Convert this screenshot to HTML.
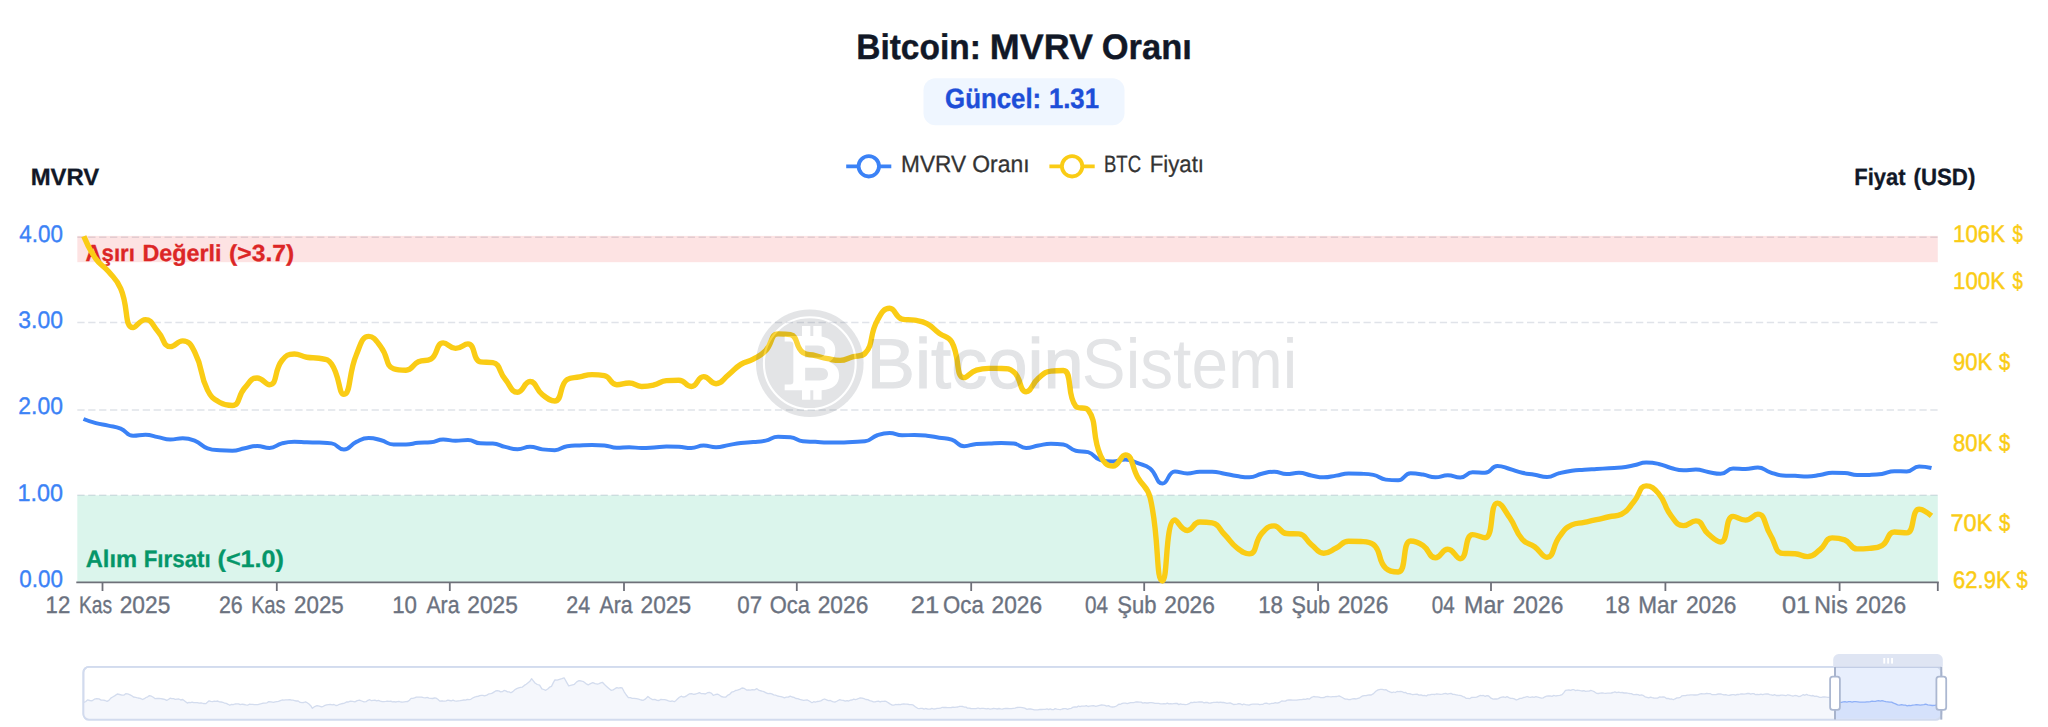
<!DOCTYPE html>
<html lang="tr"><head><meta charset="utf-8"><title>Bitcoin: MVRV Oranı</title>
<style>html,body{margin:0;padding:0;background:#fff;}body{width:2048px;height:727px;overflow:hidden;font-family:"Liberation Sans", "DejaVu Sans", sans-serif;}svg{display:block;}text{font-family:"Liberation Sans", "DejaVu Sans", sans-serif;white-space:pre;text-rendering:geometricPrecision;}</style>
</head><body>
<svg width="2048" height="727" viewBox="0 0 2048 727">
<rect width="2048" height="727" fill="#ffffff"/>
<g id="header">
<text y="58.8" font-size="35.47" font-weight="bold" fill="#111827" stroke="#111827" stroke-width="0.40"><tspan x="856.2" textLength="124.7" lengthAdjust="spacingAndGlyphs">Bitcoin:</tspan> <tspan x="989.8" textLength="103.1" lengthAdjust="spacingAndGlyphs">MVRV</tspan> <tspan x="1101.7" textLength="90.1" lengthAdjust="spacingAndGlyphs">Oranı</tspan></text>
<rect x="923.5" y="78.2" width="201" height="47" rx="12" ry="12" fill="#eff6ff"/>
<text y="107.9" font-size="28.05" font-weight="bold" fill="#1d4ed8" stroke="#1d4ed8" stroke-width="0.40"><tspan x="945.1" textLength="96.1" lengthAdjust="spacingAndGlyphs">Güncel:</tspan> <tspan x="1048.9" textLength="50.1" lengthAdjust="spacingAndGlyphs">1.31</tspan></text>
</g>
<g id="legend">
<line x1="846.2" y1="166.3" x2="891.3" y2="166.3" stroke="#3b82f6" stroke-width="3.8"/><circle cx="868.8" cy="166.3" r="10.2" fill="#fff" stroke="#3b82f6" stroke-width="3.8"/>
<text y="171.7" font-size="23.55" font-weight="normal" fill="#333333" stroke="#333333" stroke-width="0.30"><tspan x="901.1" textLength="65.0" lengthAdjust="spacingAndGlyphs">MVRV</tspan> <tspan x="972.3" textLength="57.2" lengthAdjust="spacingAndGlyphs">Oranı</tspan></text>
<line x1="1049.4" y1="166.3" x2="1094.7" y2="166.3" stroke="#facc15" stroke-width="3.8"/><circle cx="1072.1" cy="166.3" r="10.2" fill="#fff" stroke="#facc15" stroke-width="3.8"/>
<text y="171.7" font-size="23.55" font-weight="normal" fill="#333333" stroke="#333333" stroke-width="0.30"><tspan x="1103.9" textLength="37.2" lengthAdjust="spacingAndGlyphs">BTC</tspan> <tspan x="1149.7" textLength="54.3" lengthAdjust="spacingAndGlyphs">Fiyatı</tspan></text>
</g>
<text y="185.3" font-size="23.69" font-weight="bold" fill="#111827" stroke="#111827" stroke-width="0.30"><tspan x="30.7" textLength="68.6" lengthAdjust="spacingAndGlyphs">MVRV</tspan></text>
<text y="185.1" font-size="23.55" font-weight="bold" fill="#111827" stroke="#111827" stroke-width="0.30"><tspan x="1854.3" textLength="51.3" lengthAdjust="spacingAndGlyphs">Fiyat</tspan> <tspan x="1913.5" textLength="61.8" lengthAdjust="spacingAndGlyphs">(USD)</tspan></text>
<g id="grid" stroke="#e0e3e9" stroke-width="1.6" stroke-dasharray="7.3 3.6" fill="none">
<line x1="77.3" y1="237.20" x2="1937.8" y2="237.20"/>
<line x1="77.3" y1="322.55" x2="1937.8" y2="322.55"/>
<line x1="77.3" y1="410.00" x2="1937.8" y2="410.00"/>
<line x1="77.3" y1="495.25" x2="1937.8" y2="495.25"/>
</g>
<g id="bands">
<rect x="77.3" y="235.9" width="1860.5" height="26.3" fill="rgba(239,68,68,0.15)"/>
<rect x="77.3" y="495.3" width="1860.5" height="87.1" fill="rgba(16,185,129,0.15)"/>
</g>
<text y="261.4" font-size="23.26" font-weight="bold" fill="#dc2626" stroke="#dc2626" stroke-width="0.30"><tspan x="85.6" textLength="49.3" lengthAdjust="spacingAndGlyphs">Aşırı</tspan> <tspan x="142.4" textLength="79.1" lengthAdjust="spacingAndGlyphs">Değerli</tspan> <tspan x="229.1" textLength="65.1" lengthAdjust="spacingAndGlyphs">(&gt;3.7)</tspan></text>
<text y="566.9" font-size="23.84" font-weight="bold" fill="#059669" stroke="#059669" stroke-width="0.30"><tspan x="85.7" textLength="51.4" lengthAdjust="spacingAndGlyphs">Alım</tspan> <tspan x="143.7" textLength="67.0" lengthAdjust="spacingAndGlyphs">Fırsatı</tspan> <tspan x="217.5" textLength="66.5" lengthAdjust="spacingAndGlyphs">(&lt;1.0)</tspan></text>
<g id="xaxis">
<line x1="76.3" y1="582.4" x2="1938.8" y2="582.4" stroke="#6e7079" stroke-width="1.8"/>
<line x1="102.5" y1="582.4" x2="102.5" y2="591.0" stroke="#6e7079" stroke-width="1.8"/>
<line x1="276.8" y1="582.4" x2="276.8" y2="591.0" stroke="#6e7079" stroke-width="1.8"/>
<line x1="449.8" y1="582.4" x2="449.8" y2="591.0" stroke="#6e7079" stroke-width="1.8"/>
<line x1="624.0" y1="582.4" x2="624.0" y2="591.0" stroke="#6e7079" stroke-width="1.8"/>
<line x1="796.8" y1="582.4" x2="796.8" y2="591.0" stroke="#6e7079" stroke-width="1.8"/>
<line x1="971.2" y1="582.4" x2="971.2" y2="591.0" stroke="#6e7079" stroke-width="1.8"/>
<line x1="1144.2" y1="582.4" x2="1144.2" y2="591.0" stroke="#6e7079" stroke-width="1.8"/>
<line x1="1318.1" y1="582.4" x2="1318.1" y2="591.0" stroke="#6e7079" stroke-width="1.8"/>
<line x1="1491.0" y1="582.4" x2="1491.0" y2="591.0" stroke="#6e7079" stroke-width="1.8"/>
<line x1="1665.4" y1="582.4" x2="1665.4" y2="591.0" stroke="#6e7079" stroke-width="1.8"/>
<line x1="1839.6" y1="582.4" x2="1839.6" y2="591.0" stroke="#6e7079" stroke-width="1.8"/>
<line x1="1937.8" y1="582.4" x2="1937.8" y2="591.0" stroke="#6e7079" stroke-width="1.8"/>
<text y="612.7" font-size="24.13" font-weight="normal" fill="#6b7280" stroke="#6b7280" stroke-width="0.35"><tspan x="45.6" textLength="24.7" lengthAdjust="spacingAndGlyphs">12</tspan> <tspan x="78.9" textLength="33.1" lengthAdjust="spacingAndGlyphs">Kas</tspan> <tspan x="119.7" textLength="50.6" lengthAdjust="spacingAndGlyphs">2025</tspan></text>
<text y="612.7" font-size="24.13" font-weight="normal" fill="#6b7280" stroke="#6b7280" stroke-width="0.35"><tspan x="218.9" textLength="23.8" lengthAdjust="spacingAndGlyphs">26</tspan> <tspan x="251.3" textLength="34.1" lengthAdjust="spacingAndGlyphs">Kas</tspan> <tspan x="294.1" textLength="49.7" lengthAdjust="spacingAndGlyphs">2025</tspan></text>
<text y="612.7" font-size="24.13" font-weight="normal" fill="#6b7280" stroke="#6b7280" stroke-width="0.35"><tspan x="392.2" textLength="24.8" lengthAdjust="spacingAndGlyphs">10</tspan> <tspan x="426.4" textLength="33.1" lengthAdjust="spacingAndGlyphs">Ara</tspan> <tspan x="467.3" textLength="50.6" lengthAdjust="spacingAndGlyphs">2025</tspan></text>
<text y="612.7" font-size="24.13" font-weight="normal" fill="#6b7280" stroke="#6b7280" stroke-width="0.35"><tspan x="566.3" textLength="23.9" lengthAdjust="spacingAndGlyphs">24</tspan> <tspan x="599.6" textLength="33.1" lengthAdjust="spacingAndGlyphs">Ara</tspan> <tspan x="640.5" textLength="50.6" lengthAdjust="spacingAndGlyphs">2025</tspan></text>
<text y="612.7" font-size="24.13" font-weight="normal" fill="#6b7280" stroke="#6b7280" stroke-width="0.35"><tspan x="737.3" textLength="24.8" lengthAdjust="spacingAndGlyphs">07</tspan> <tspan x="769.7" textLength="40.2" lengthAdjust="spacingAndGlyphs">Oca</tspan> <tspan x="817.7" textLength="50.6" lengthAdjust="spacingAndGlyphs">2026</tspan></text>
<text y="612.7" font-size="24.13" font-weight="normal" fill="#6b7280" stroke="#6b7280" stroke-width="0.35"><tspan x="910.7" textLength="28.4" lengthAdjust="spacingAndGlyphs">21</tspan> <tspan x="943.1" textLength="40.6" lengthAdjust="spacingAndGlyphs">Oca</tspan> <tspan x="991.5" textLength="50.6" lengthAdjust="spacingAndGlyphs">2026</tspan></text>
<text y="612.7" font-size="24.13" font-weight="normal" fill="#6b7280" stroke="#6b7280" stroke-width="0.35"><tspan x="1084.9" textLength="23.0" lengthAdjust="spacingAndGlyphs">04</tspan> <tspan x="1117.3" textLength="39.2" lengthAdjust="spacingAndGlyphs">Şub</tspan> <tspan x="1164.3" textLength="50.6" lengthAdjust="spacingAndGlyphs">2026</tspan></text>
<text y="612.7" font-size="24.13" font-weight="normal" fill="#6b7280" stroke="#6b7280" stroke-width="0.35"><tspan x="1258.2" textLength="24.8" lengthAdjust="spacingAndGlyphs">18</tspan> <tspan x="1291.5" textLength="38.4" lengthAdjust="spacingAndGlyphs">Şub</tspan> <tspan x="1337.7" textLength="50.6" lengthAdjust="spacingAndGlyphs">2026</tspan></text>
<text y="612.7" font-size="24.13" font-weight="normal" fill="#6b7280" stroke="#6b7280" stroke-width="0.35"><tspan x="1431.7" textLength="23.0" lengthAdjust="spacingAndGlyphs">04</tspan> <tspan x="1464.1" textLength="39.9" lengthAdjust="spacingAndGlyphs">Mar</tspan> <tspan x="1512.7" textLength="50.6" lengthAdjust="spacingAndGlyphs">2026</tspan></text>
<text y="612.7" font-size="24.13" font-weight="normal" fill="#6b7280" stroke="#6b7280" stroke-width="0.35"><tspan x="1605.0" textLength="24.8" lengthAdjust="spacingAndGlyphs">18</tspan> <tspan x="1638.3" textLength="38.9" lengthAdjust="spacingAndGlyphs">Mar</tspan> <tspan x="1685.9" textLength="50.6" lengthAdjust="spacingAndGlyphs">2026</tspan></text>
<text y="612.7" font-size="24.13" font-weight="normal" fill="#6b7280" stroke="#6b7280" stroke-width="0.35"><tspan x="1781.9" textLength="28.2" lengthAdjust="spacingAndGlyphs">01</tspan> <tspan x="1814.3" textLength="33.4" lengthAdjust="spacingAndGlyphs">Nis</tspan> <tspan x="1855.5" textLength="50.6" lengthAdjust="spacingAndGlyphs">2026</tspan></text>
</g>
<g id="yleft">
<text y="241.7" font-size="23.98" font-weight="normal" fill="#3b82f6" stroke="#3b82f6" stroke-width="0.35"><tspan x="19.2" textLength="43.7" lengthAdjust="spacingAndGlyphs">4.00</tspan></text>
<text y="328.0" font-size="23.98" font-weight="normal" fill="#3b82f6" stroke="#3b82f6" stroke-width="0.35"><tspan x="18.3" textLength="44.6" lengthAdjust="spacingAndGlyphs">3.00</tspan></text>
<text y="414.4" font-size="23.98" font-weight="normal" fill="#3b82f6" stroke="#3b82f6" stroke-width="0.35"><tspan x="18.3" textLength="44.6" lengthAdjust="spacingAndGlyphs">2.00</tspan></text>
<text y="500.7" font-size="23.98" font-weight="normal" fill="#3b82f6" stroke="#3b82f6" stroke-width="0.35"><tspan x="17.4" textLength="45.5" lengthAdjust="spacingAndGlyphs">1.00</tspan></text>
<text y="587.0" font-size="23.98" font-weight="normal" fill="#3b82f6" stroke="#3b82f6" stroke-width="0.35"><tspan x="19.2" textLength="43.7" lengthAdjust="spacingAndGlyphs">0.00</tspan></text>
</g>
<g id="yright">
<text y="242.0" font-size="24.13" font-weight="normal" fill="#facc15" stroke="#facc15" stroke-width="0.50"><tspan x="1953.1" textLength="51.9" lengthAdjust="spacingAndGlyphs">106K</tspan> <tspan x="2012.6" textLength="10.3" lengthAdjust="spacingAndGlyphs">$</tspan></text>
<text y="289.2" font-size="24.13" font-weight="normal" fill="#facc15" stroke="#facc15" stroke-width="0.50"><tspan x="1953.1" textLength="51.9" lengthAdjust="spacingAndGlyphs">100K</tspan> <tspan x="2012.6" textLength="10.3" lengthAdjust="spacingAndGlyphs">$</tspan></text>
<text y="370.2" font-size="24.13" font-weight="normal" fill="#facc15" stroke="#facc15" stroke-width="0.50"><tspan x="1953.1" textLength="39.2" lengthAdjust="spacingAndGlyphs">90K</tspan> <tspan x="1999.0" textLength="11.2" lengthAdjust="spacingAndGlyphs">$</tspan></text>
<text y="450.9" font-size="24.13" font-weight="normal" fill="#facc15" stroke="#facc15" stroke-width="0.50"><tspan x="1953.1" textLength="39.2" lengthAdjust="spacingAndGlyphs">80K</tspan> <tspan x="1999.0" textLength="11.2" lengthAdjust="spacingAndGlyphs">$</tspan></text>
<text y="531.1" font-size="24.13" font-weight="normal" fill="#facc15" stroke="#facc15" stroke-width="0.50"><tspan x="1950.4" textLength="41.9" lengthAdjust="spacingAndGlyphs">70K</tspan> <tspan x="1999.0" textLength="11.2" lengthAdjust="spacingAndGlyphs">$</tspan></text>
<text y="587.5" font-size="24.13" font-weight="normal" fill="#facc15" stroke="#facc15" stroke-width="0.50"><tspan x="1953.1" textLength="57.5" lengthAdjust="spacingAndGlyphs">62.9K</tspan> <tspan x="2016.4" textLength="11.2" lengthAdjust="spacingAndGlyphs">$</tspan></text>
</g>
<g id="series" fill="none" stroke-linejoin="round" stroke-linecap="butt">
<path d="M83.50 419.00C83.50 419.00 89.59 421.49 95.90 423.17C102.00 424.80 102.14 424.25 108.31 425.61C114.54 426.99 114.85 426.27 120.71 428.66C127.26 431.34 126.48 435.75 133.11 435.75C138.88 435.75 139.36 434.75 145.51 434.75C151.76 434.75 151.72 435.93 157.92 437.12C164.12 438.31 164.08 439.50 170.32 439.50C176.48 439.50 176.58 438.25 182.72 438.25C188.98 438.25 189.31 438.60 195.12 440.95C201.72 443.61 200.90 445.94 207.53 448.27C213.31 450.30 213.69 449.85 219.93 450.30C226.09 450.75 226.19 450.75 232.33 450.75C238.59 450.75 238.52 449.41 244.73 448.22C250.92 447.04 250.93 446.00 257.14 446.00C263.33 446.00 263.50 448.00 269.54 448.00C275.91 448.00 275.56 444.95 281.94 443.34C287.97 441.83 288.12 441.75 294.35 441.75C300.52 441.75 300.54 442.10 306.75 442.30C312.95 442.51 312.96 442.30 319.15 442.57C325.36 442.83 325.69 442.57 331.55 443.36C338.09 444.24 337.92 449.50 343.96 449.50C350.32 449.50 349.80 444.86 356.36 441.82C362.20 439.11 362.47 438.00 368.76 438.00C374.87 438.00 375.08 438.68 381.16 440.27C387.48 441.93 387.20 444.50 393.57 444.50C399.60 444.50 399.80 444.50 405.97 444.50C412.20 444.50 412.15 443.36 418.37 442.81C424.55 442.27 424.65 442.81 430.78 442.27C437.05 441.71 436.92 439.50 443.18 439.50C449.32 439.50 449.37 440.75 455.58 440.75C461.77 440.75 461.88 440.00 467.98 440.00C474.28 440.00 474.08 443.09 480.39 443.30C486.48 443.50 486.70 443.30 492.79 443.50C499.10 443.71 498.93 445.45 505.19 446.90C511.34 448.32 511.40 449.25 517.59 449.25C523.80 449.25 523.80 446.75 530.00 446.75C536.20 446.75 536.14 448.59 542.40 449.37C548.54 450.13 548.74 450.13 554.80 450.13C561.15 450.13 560.86 447.00 567.20 446.18C573.26 445.39 573.40 445.69 579.61 445.39C585.80 445.10 585.81 445.00 592.01 445.00C598.21 445.00 598.26 445.00 604.41 445.41C610.67 445.83 610.56 447.75 616.82 447.75C622.97 447.75 623.02 447.25 629.22 447.25C635.42 447.25 635.42 448.00 641.62 448.00C647.82 448.00 647.83 447.85 654.02 447.48C660.23 447.10 660.22 446.50 666.43 446.50C672.62 446.50 672.64 446.50 678.83 446.83C685.04 447.16 685.08 448.00 691.23 448.00C697.48 448.00 697.40 445.50 703.63 445.50C709.80 445.50 709.85 447.25 716.04 447.25C722.25 447.25 722.24 446.19 728.44 445.11C734.64 444.04 734.60 443.72 740.84 442.94C747.01 442.16 747.05 442.59 753.24 442.01C759.46 441.42 759.57 441.88 765.65 440.60C771.97 439.26 771.71 436.75 778.05 436.75C784.11 436.75 784.40 436.75 790.45 437.34C796.80 437.95 796.51 440.63 802.86 441.25C808.91 441.84 809.06 441.53 815.26 441.84C821.46 442.15 821.46 442.50 827.66 442.50C833.86 442.50 833.86 442.50 840.06 442.50C846.27 442.50 846.27 442.29 852.47 442.00C858.67 441.72 859.00 442.00 864.87 441.36C871.41 440.65 870.78 437.42 877.27 435.23C883.18 433.24 883.47 433.00 889.67 433.00C895.88 433.00 895.83 435.25 902.08 435.25C908.23 435.25 908.28 435.00 914.48 435.00C920.69 435.00 920.71 435.05 926.88 435.72C933.12 436.39 933.08 436.71 939.29 437.69C945.49 438.66 945.84 437.69 951.69 439.63C958.24 441.81 957.55 446.25 964.09 446.25C969.95 446.25 970.24 444.44 976.49 443.99C982.65 443.56 982.70 443.80 988.90 443.56C995.10 443.31 995.10 443.00 1001.30 443.00C1007.50 443.00 1007.68 443.00 1013.70 443.55C1020.09 444.13 1019.78 448.00 1026.10 448.00C1032.18 448.00 1032.27 446.55 1038.51 445.48C1044.68 444.42 1044.69 443.75 1050.91 443.75C1057.09 443.75 1057.44 443.75 1063.31 444.58C1069.85 445.51 1069.19 449.21 1075.71 450.73C1081.59 452.11 1082.43 450.73 1088.12 452.11C1094.83 453.74 1093.81 458.38 1100.52 460.08C1106.21 461.51 1106.74 461.51 1112.92 461.51C1119.14 461.51 1119.22 459.53 1125.33 459.53C1131.62 459.53 1131.65 461.04 1137.73 463.24C1144.05 465.53 1145.07 464.35 1150.13 468.51C1157.47 474.54 1155.97 483.62 1162.53 483.62C1168.37 483.62 1167.73 471.41 1174.94 471.41C1180.14 471.41 1181.13 473.39 1187.34 473.39C1193.53 473.39 1193.51 471.87 1199.74 471.76C1205.92 471.65 1205.98 471.65 1212.14 471.65C1218.39 471.65 1218.36 472.58 1224.55 473.68C1230.76 474.79 1230.71 475.14 1236.95 476.07C1243.11 476.98 1243.26 477.35 1249.35 477.35C1255.66 477.35 1255.47 475.19 1261.76 473.77C1267.87 472.39 1267.97 471.74 1274.16 471.74C1280.37 471.74 1280.32 474.05 1286.56 474.05C1292.72 474.05 1292.81 472.83 1298.96 472.83C1305.22 472.83 1305.13 474.32 1311.37 475.46C1317.53 476.58 1317.56 477.34 1323.77 477.34C1329.96 477.34 1329.98 476.55 1336.17 475.62C1342.38 474.68 1342.33 473.58 1348.57 473.58C1354.73 473.58 1354.79 473.58 1360.98 473.79C1367.19 474.00 1367.38 473.79 1373.38 474.88C1379.78 476.04 1379.37 478.87 1385.78 479.63C1391.78 480.34 1392.41 480.34 1398.18 480.34C1404.81 480.34 1403.97 473.33 1410.59 473.33C1416.37 473.33 1416.85 473.58 1422.99 474.57C1429.25 475.58 1429.16 477.34 1435.39 477.34C1441.56 477.34 1441.60 475.33 1447.80 475.33C1454.01 475.33 1454.20 477.59 1460.20 477.59C1466.61 477.59 1466.15 472.33 1472.60 472.33C1478.55 472.33 1479.20 472.83 1485.00 472.83C1491.60 472.83 1490.88 466.07 1497.41 466.07C1503.29 466.07 1503.67 467.31 1509.81 468.98C1516.07 470.68 1515.91 471.34 1522.21 472.80C1528.31 474.22 1528.43 473.67 1534.61 474.74C1540.83 475.81 1540.91 477.09 1547.02 477.09C1553.31 477.09 1553.13 474.81 1559.42 473.18C1565.54 471.60 1565.57 471.53 1571.82 470.66C1577.97 469.81 1578.02 470.16 1584.22 469.75C1590.42 469.33 1590.43 469.37 1596.63 469.00C1602.83 468.63 1602.83 468.62 1609.03 468.27C1615.23 467.92 1615.28 468.27 1621.43 467.59C1627.68 466.91 1627.66 466.58 1633.84 465.33C1640.06 464.06 1639.98 462.56 1646.24 462.56C1652.38 462.56 1652.58 462.61 1658.64 463.93C1664.98 465.31 1664.74 466.33 1671.04 467.96C1677.14 469.53 1677.20 470.33 1683.45 470.33C1689.60 470.33 1689.70 469.57 1695.85 469.57C1702.10 469.57 1702.02 470.95 1708.25 472.02C1714.43 473.08 1714.68 473.83 1720.65 473.83C1727.09 473.83 1726.60 468.49 1733.06 468.49C1739.00 468.49 1739.28 469.07 1745.46 469.07C1751.68 469.07 1751.85 467.57 1757.86 467.57C1764.25 467.57 1763.95 470.29 1770.27 472.30C1776.35 474.24 1776.37 475.05 1782.67 475.47C1788.77 475.87 1788.87 475.60 1795.07 475.87C1801.27 476.13 1801.29 476.52 1807.47 476.52C1813.69 476.52 1813.71 476.01 1819.88 475.07C1826.11 474.11 1826.02 472.72 1832.28 472.72C1838.43 472.72 1838.52 472.72 1844.68 472.95C1850.92 473.18 1850.84 474.98 1857.08 474.98C1863.24 474.98 1863.29 474.98 1869.49 474.88C1875.70 474.78 1875.75 474.88 1881.89 474.00C1888.16 473.09 1888.02 471.24 1894.29 471.24C1900.42 471.24 1900.73 471.46 1906.69 471.46C1913.13 471.46 1912.68 466.40 1919.10 466.40C1925.08 466.40 1931.50 467.94 1931.50 467.94" stroke="#3b82f6" stroke-width="4.0"/>
<path d="M83.80 236.30C83.80 236.30 88.63 248.51 95.90 258.90C100.88 266.00 102.70 264.59 108.31 271.30C115.10 279.42 116.48 278.94 120.71 288.55C128.88 307.11 123.99 327.64 133.11 327.64C136.39 327.64 139.77 319.63 145.51 319.63C152.18 319.63 152.13 325.16 157.92 331.47C164.54 338.68 163.01 346.67 170.32 346.67C175.41 346.67 177.24 340.91 182.72 340.91C189.64 340.91 191.33 345.40 195.12 352.92C203.74 370.00 198.95 372.98 207.53 390.11C211.36 397.76 212.76 398.33 219.93 402.48C225.16 405.51 227.72 405.51 232.33 405.51C240.12 405.51 237.60 395.83 244.73 387.90C250.00 382.06 250.57 377.97 257.14 377.97C262.97 377.97 265.30 384.73 269.54 384.73C277.71 384.73 273.76 370.65 281.94 360.49C286.16 355.25 287.87 353.93 294.35 353.93C300.27 353.93 300.45 356.23 306.75 357.26C312.85 358.26 313.24 357.26 319.15 358.26C325.64 359.36 327.90 358.70 331.55 364.00C340.30 376.69 338.49 394.24 343.96 394.24C350.89 394.24 348.27 373.55 356.36 354.69C360.67 344.64 361.66 336.41 368.76 336.41C374.06 336.41 376.21 340.83 381.16 347.29C388.61 356.99 385.32 365.84 393.57 368.75C397.72 370.21 400.33 370.21 405.97 370.21C412.73 370.21 411.66 364.83 418.37 361.84C424.06 359.30 426.02 361.84 430.78 359.15C438.43 354.83 435.73 342.92 443.18 342.92C448.13 342.92 449.29 348.42 455.58 348.42C461.70 348.42 463.30 343.92 467.98 343.92C475.71 343.92 472.49 360.47 480.39 361.81C484.89 362.57 488.16 361.81 492.79 362.57C500.56 363.85 498.52 371.34 505.19 379.32C510.92 386.17 511.12 392.24 517.59 392.24C523.53 392.24 524.09 381.47 530.00 381.47C536.49 381.47 535.41 389.09 542.40 394.59C547.81 398.85 550.34 401.00 554.80 401.00C562.74 401.00 558.99 384.47 567.20 379.48C571.39 376.94 573.39 378.15 579.61 376.94C585.80 375.74 585.77 374.67 592.01 374.67C598.17 374.67 598.85 374.67 604.41 375.69C611.26 376.95 609.99 384.68 616.82 384.68C622.39 384.68 623.11 382.93 629.22 382.93C635.51 382.93 635.32 386.44 641.62 386.44C647.73 386.44 647.97 386.35 654.02 384.95C660.38 383.47 660.05 381.20 666.43 380.67C672.46 380.18 672.98 380.18 678.83 380.18C685.38 380.18 685.43 386.44 691.23 386.44C697.83 386.44 697.12 376.67 703.63 376.67C709.52 376.67 710.05 383.68 716.04 383.68C722.45 383.68 722.42 379.46 728.44 374.78C734.82 369.82 734.07 368.66 740.84 364.39C746.48 360.84 747.38 362.38 753.24 359.15C759.78 355.54 760.47 355.99 765.65 350.72C772.87 343.35 770.27 333.86 778.05 333.86C782.67 333.86 785.95 333.86 790.45 334.58C798.35 335.86 795.04 347.20 802.86 352.51C807.44 355.62 809.06 354.06 815.26 355.62C821.46 357.17 821.39 357.51 827.66 358.72C833.80 359.90 833.95 360.40 840.06 360.40C846.36 360.40 846.26 358.60 852.47 356.88C858.66 355.16 861.56 356.88 864.87 353.51C873.96 344.26 868.95 335.59 877.27 320.44C881.36 313.00 883.30 308.32 889.67 308.32C895.70 308.32 895.03 317.45 902.08 319.02C907.44 320.22 908.38 319.08 914.48 320.22C920.78 321.39 921.30 320.69 926.88 323.64C933.71 327.25 932.94 328.68 939.29 333.33C945.34 337.78 948.17 335.54 951.69 341.83C960.57 357.71 955.12 377.67 964.09 377.67C967.52 377.67 969.83 372.12 976.49 370.13C982.24 368.41 982.67 368.41 988.90 368.41C995.07 368.41 995.21 368.41 1001.30 368.45C1007.61 368.50 1009.31 368.45 1013.70 371.79C1021.72 377.87 1019.15 391.69 1026.10 391.69C1031.55 391.69 1031.52 383.93 1038.51 378.14C1043.93 373.64 1044.28 371.85 1050.91 371.10C1056.68 370.46 1060.24 370.46 1063.31 370.46C1072.65 370.46 1066.48 395.42 1075.71 406.14C1078.88 409.81 1085.45 406.14 1088.12 409.81C1097.86 423.25 1091.30 434.55 1100.52 455.47C1103.71 462.71 1106.79 466.13 1112.92 466.13C1119.19 466.13 1120.43 454.92 1125.33 454.92C1132.83 454.92 1131.30 466.25 1137.73 477.33C1143.71 487.63 1147.39 486.25 1150.13 497.68C1159.80 538.06 1155.40 580.95 1162.53 580.95C1167.81 580.95 1165.10 519.91 1174.94 519.91C1177.51 519.91 1180.88 530.47 1187.34 530.47C1193.28 530.47 1192.96 522.04 1199.74 522.04C1205.36 522.04 1206.90 522.04 1212.14 522.90C1219.30 524.08 1218.56 528.48 1224.55 534.49C1230.96 540.94 1229.90 542.30 1236.95 547.81C1242.30 552.00 1244.81 553.89 1249.35 553.89C1257.22 553.89 1254.04 542.14 1261.76 533.41C1266.44 528.12 1267.97 525.85 1274.16 525.85C1280.37 525.85 1279.86 533.11 1286.56 533.55C1292.26 533.92 1293.61 533.55 1298.96 533.92C1306.01 534.41 1304.92 539.55 1311.37 544.56C1317.33 549.19 1317.21 553.20 1323.77 553.20C1329.61 553.20 1330.13 550.92 1336.17 547.99C1342.53 544.91 1341.97 541.18 1348.57 541.18C1354.37 541.18 1354.86 541.18 1360.98 541.51C1367.27 541.84 1369.37 541.51 1373.38 544.53C1381.77 550.86 1377.43 560.38 1385.78 568.19C1389.84 571.98 1394.72 571.98 1398.18 571.98C1407.12 571.98 1401.70 540.93 1410.59 540.93C1414.10 540.93 1417.63 541.91 1422.99 545.53C1430.03 550.30 1428.74 557.71 1435.39 557.71C1441.15 557.71 1441.71 549.19 1447.80 549.19C1454.12 549.19 1455.66 558.71 1460.20 558.71C1468.06 558.71 1464.17 534.67 1472.60 534.67C1476.58 534.67 1481.80 537.68 1485.00 537.68C1494.21 537.68 1489.26 503.12 1497.41 503.12C1501.67 503.12 1504.39 509.91 1509.81 517.79C1516.79 527.94 1514.40 530.08 1522.21 539.20C1526.80 544.56 1528.76 542.50 1534.61 546.75C1541.16 551.50 1542.01 557.21 1547.02 557.21C1554.42 557.21 1552.18 546.11 1559.42 536.67C1564.59 529.93 1564.69 528.18 1571.82 524.85C1577.09 522.40 1578.03 523.68 1584.22 522.40C1590.44 521.12 1590.44 521.15 1596.63 519.74C1602.85 518.32 1602.80 518.11 1609.03 516.74C1615.20 515.38 1616.25 516.74 1621.43 514.27C1628.66 510.84 1628.05 508.38 1633.84 501.75C1640.45 494.16 1639.05 485.85 1646.24 485.85C1651.45 485.85 1654.08 488.16 1658.64 493.61C1666.49 503.00 1663.46 505.74 1671.04 515.53C1675.86 521.76 1676.67 525.66 1683.45 525.66C1689.07 525.66 1690.59 520.90 1695.85 520.90C1703.00 520.90 1701.42 528.23 1708.25 534.03C1713.82 538.75 1716.42 541.93 1720.65 541.93C1728.82 541.93 1724.54 516.39 1733.06 516.39C1736.94 516.39 1739.45 520.15 1745.46 520.15C1751.85 520.15 1753.33 514.14 1757.86 514.14C1765.74 514.14 1763.87 524.51 1770.27 534.63C1776.27 544.13 1774.68 552.64 1782.67 553.37C1787.08 553.77 1788.95 553.37 1795.07 553.77C1801.35 554.18 1801.61 556.61 1807.47 556.61C1814.01 556.61 1814.26 553.97 1819.88 549.74C1826.66 544.62 1825.12 537.91 1832.28 537.91C1837.52 537.91 1839.10 537.91 1844.68 539.86C1851.50 542.25 1850.23 548.91 1857.08 548.91C1862.63 548.91 1863.35 548.91 1869.49 548.33C1875.76 547.74 1876.83 548.33 1881.89 545.62C1889.24 541.68 1886.88 531.97 1894.29 531.97C1899.29 531.97 1902.74 532.85 1906.69 532.85C1915.15 532.85 1910.98 509.31 1919.10 509.31C1923.38 509.31 1931.50 515.91 1931.50 515.91" stroke="#facc15" stroke-width="5.4"/>
</g>
<g id="watermark" opacity="0.16" fill="#4b5563">
<circle cx="809.8" cy="363.2" r="53.8"/>
<circle cx="809.8" cy="363.2" r="45.9" fill="none" stroke="#fff" stroke-width="2.1"/>
<path fill="#fff" fill-rule="evenodd" transform="translate(750 300) scale(0.1734)" d="M200 207H300V150H348V207H365V150H413V210C470 222 492 250 492 290C492 325 478 345 455 358C495 372 514 400 514 435C514 485 480 515 413 520V575H365V520H348V575H300V520H200V487H232Q250 487 250 468V258Q250 240 232 240H200ZM318 262H392C422 262 434 278 434 297C434 318 420 332 392 332H318ZM318 390H400C436 390 450 406 450 427C450 449 436 464 400 464H318Z"/>
<text y="388.2" font-size="70.5"><tspan x="866.8" stroke="#4b5563" stroke-width="1.1" textLength="216.9" lengthAdjust="spacingAndGlyphs">Bitcoin</tspan><tspan x="1081.8" textLength="215.5" lengthAdjust="spacingAndGlyphs">Sistemi</tspan></text>
</g>
<g id="datazoom">
<rect x="83.4" y="666.9" width="1857.9" height="52.7" rx="5.5" fill="#fff" stroke="#d2dbee" stroke-width="1.8"/>
<path d="M84.3 702.4L84.0 702.3L85.8 701.5L87.5 699.9L89.8 700.5L92.1 700.8L94.4 699.2L96.7 698.6L99.0 698.9L101.2 700.1L103.2 700.1L105.1 700.5L107.0 701.3L108.9 700.3L110.8 698.1L112.7 697.0L115.0 695.6L117.3 694.0L119.6 694.5L121.9 695.1L123.8 695.2L125.7 693.7L127.6 693.9L129.6 694.7L131.5 695.6L133.4 697.0L135.7 697.3L138.0 698.0L140.3 698.3L142.6 699.5L144.3 698.7L146.0 697.5L147.7 696.8L149.4 695.6L151.4 696.2L153.3 697.3L155.2 698.7L157.1 698.5L159.0 698.4L160.9 698.6L162.8 699.0L164.7 699.4L166.7 700.3L168.4 699.5L170.1 698.2L171.8 698.6L173.5 698.7L175.3 699.3L177.0 699.1L178.9 699.0L180.8 700.0L182.7 699.5L185.0 701.2L187.3 703.1L188.9 702.4L190.5 702.7L192.1 702.1L193.7 702.7L195.3 702.6L197.3 702.7L199.2 703.2L201.1 702.8L203.4 703.5L205.7 703.7L207.4 702.3L209.1 700.8L210.8 701.3L212.6 701.6L214.3 701.2L216.0 701.4L217.7 701.0L219.4 701.9L221.2 702.0L222.9 702.3L224.6 703.2L226.3 703.4L228.1 704.3L229.8 705.3L231.5 704.4L233.2 704.6L234.9 704.0L236.7 703.9L238.5 703.8L240.3 704.7L242.2 704.2L244.0 704.5L245.8 704.9L247.6 705.2L249.3 704.2L251.0 704.4L252.7 704.3L254.4 704.7L256.2 704.6L257.9 704.7L259.6 704.2L261.4 703.7L263.3 703.1L265.1 703.2L267.0 702.8L268.8 701.6L271.1 701.8L273.4 702.3L275.1 701.8L276.8 701.6L278.5 701.4L280.3 700.7L282.1 700.0L283.9 700.2L285.8 699.9L287.6 699.8L289.4 699.7L291.2 700.0L292.9 700.2L294.6 700.6L296.3 701.0L298.2 700.9L300.2 702.4L302.1 702.6L303.8 702.5L305.5 701.9L307.2 702.8L309.0 704.0L310.7 705.7L312.4 708.3L314.7 706.6L317.0 705.7L319.3 706.2L321.6 706.9L323.3 706.3L325.0 705.4L326.7 704.8L328.5 704.6L330.3 704.4L332.1 704.8L334.0 704.5L335.8 705.5L337.6 705.3L339.4 704.3L341.1 703.9L342.8 703.5L344.5 703.1L346.4 702.0L348.4 702.0L350.3 701.1L352.6 701.3L354.9 701.8L357.2 700.6L359.5 700.2L361.7 701.0L364.0 701.9L366.0 701.7L367.9 700.3L369.8 699.7L371.5 700.7L373.2 700.4L374.9 700.2L376.7 700.9L378.5 700.4L380.3 701.1L382.2 701.7L384.0 701.6L385.8 701.4L387.5 701.1L389.1 701.3L390.8 701.1L392.4 701.9L394.0 701.7L395.7 702.0L397.3 701.7L399.0 701.4L400.8 702.0L402.5 702.1L404.2 701.9L405.9 701.7L407.7 701.5L409.4 700.2L411.1 698.4L412.8 698.3L414.5 697.8L416.3 697.2L418.0 697.2L419.8 697.2L421.7 697.1L423.5 697.6L425.3 697.9L427.2 697.4L429.0 698.1L430.8 698.3L432.7 698.5L434.5 698.0L436.3 698.2L438.1 699.5L439.8 701.1L441.4 700.8L443.0 701.0L444.6 701.1L446.2 700.8L447.8 700.2L449.5 700.5L451.3 700.8L453.0 700.2L454.7 700.9L456.5 701.2L458.4 700.9L460.2 700.7L462.0 700.3L463.9 700.0L465.6 700.2L467.3 699.4L469.0 699.6L470.8 699.3L472.7 698.0L474.6 697.1L476.5 696.5L478.1 696.4L479.7 695.6L481.3 695.4L482.9 695.3L484.5 695.8L486.8 695.1L489.1 693.8L490.7 693.6L492.3 693.1L493.9 692.1L495.6 691.0L497.2 690.6L498.9 690.9L500.6 691.9L502.3 691.7L504.0 690.4L505.8 690.9L507.5 691.9L509.2 691.9L510.9 692.8L512.8 691.6L514.8 689.7L516.7 688.6L518.6 687.9L520.5 687.3L522.4 687.1L524.3 685.4L526.2 684.2L528.1 682.7L529.9 681.3L531.6 678.7L533.3 680.8L535.0 683.0L537.3 684.5L539.6 685.2L541.9 688.9L543.8 689.5L545.7 690.3L547.7 689.0L549.6 687.2L551.5 686.4L553.2 682.9L554.9 679.9L557.2 680.2L559.5 679.3L561.8 678.6L564.1 677.8L566.4 681.9L568.7 685.8L570.6 685.3L572.5 684.8L574.4 684.3L576.7 681.9L579.0 680.7L581.3 681.0L583.6 681.7L585.9 683.6L588.2 684.8L590.5 683.7L592.8 682.6L595.1 683.7L597.4 684.1L599.1 683.6L600.7 682.9L602.4 682.3L604.5 684.5L606.6 686.4L608.9 688.4L611.1 690.3L613.1 689.9L615.0 688.7L616.9 687.7L618.6 688.2L620.4 687.6L622.2 688.0L624.2 691.8L626.3 695.0L628.4 697.7L630.3 697.7L632.2 698.3L634.1 698.3L636.4 698.7L638.7 699.2L641.0 700.0L643.3 700.3L645.6 698.9L647.9 696.5L650.2 698.3L652.5 699.6L654.8 699.4L657.1 700.4L659.0 700.5L660.9 699.4L662.8 699.7L664.7 699.7L666.6 700.2L668.5 700.9L670.4 701.4L672.4 701.0L674.3 701.7L676.0 700.4L677.7 698.8L679.4 697.3L681.2 696.2L682.9 697.0L684.6 696.9L686.9 695.6L689.2 693.9L691.5 693.7L693.8 694.3L695.7 694.0L697.6 693.4L699.5 692.6L701.4 693.7L703.3 693.7L705.3 694.0L707.5 692.7L709.8 692.5L711.6 693.3L713.3 695.3L715.6 694.5L717.9 694.2L719.6 695.3L721.3 696.5L723.6 697.1L725.9 697.0L727.8 695.1L729.7 694.3L731.6 692.2L733.6 691.7L735.5 690.5L737.4 690.1L739.7 689.4L742.0 688.0L744.3 688.4L746.6 690.1L748.5 690.0L750.4 690.2L752.3 689.6L754.6 689.8L756.9 688.7L759.2 690.4L761.5 691.0L763.8 691.7L766.1 692.8L768.0 693.7L769.9 693.3L771.8 693.8L773.7 694.8L775.6 695.2L777.5 696.0L779.3 696.3L781.0 696.6L782.7 697.1L784.4 697.8L786.3 697.1L788.3 697.1L790.2 696.1L792.1 697.0L794.0 697.4L795.9 698.5L797.8 698.6L799.7 699.4L801.6 699.9L803.6 700.4L805.5 700.2L807.4 700.0L809.7 701.3L812.0 702.7L813.7 701.7L815.4 702.2L817.1 701.5L818.9 701.3L820.8 700.9L822.7 699.7L824.6 699.0L826.5 699.8L828.4 700.6L830.3 700.5L832.6 701.7L834.9 702.1L837.2 701.0L839.5 699.7L841.4 700.1L843.3 700.3L845.3 701.1L847.0 700.6L848.7 701.0L850.4 700.2L852.1 700.0L853.7 699.2L855.4 699.6L857.0 699.2L858.6 698.5L860.2 697.8L862.1 698.1L864.0 698.7L865.9 699.5L867.8 699.7L869.7 700.6L871.7 701.2L873.4 701.8L875.1 701.8L876.8 701.4L878.5 701.2L880.1 701.9L881.7 701.3L883.4 701.4L885.0 701.1L886.6 701.7L888.5 702.9L890.4 704.1L892.3 705.1L893.9 705.1L895.5 704.5L897.1 704.7L898.7 704.4L900.3 704.7L902.1 704.1L903.8 704.0L905.5 704.2L907.2 704.1L909.1 704.5L911.1 704.6L913.0 704.9L915.3 706.7L917.6 708.3L919.2 708.7L920.8 708.3L922.4 708.3L924.0 709.1L925.6 708.5L927.9 709.1L930.2 709.2L931.9 708.4L933.6 709.0L935.3 708.9L937.1 708.3L938.8 708.3L940.5 708.2L942.2 707.3L943.9 707.5L945.8 707.4L947.6 707.7L949.5 707.6L951.3 707.5L953.1 707.1L954.7 707.4L956.3 707.1L957.9 707.0L959.6 706.4L961.2 706.3L962.8 706.5L964.4 707.1L966.0 707.1L967.6 708.2L969.2 708.2L970.9 708.5L972.6 708.6L974.4 708.7L976.1 708.7L978.0 708.0L979.9 708.7L981.8 708.3L983.4 708.4L985.0 708.6L986.6 708.9L988.2 708.5L989.9 709.2L991.7 708.8L993.5 708.5L995.4 708.6L997.2 709.0L999.0 708.5L1000.7 708.9L1002.3 709.2L1004.0 708.7L1005.8 708.4L1007.7 708.5L1009.5 708.6L1011.3 708.6L1013.2 708.3L1015.0 708.2L1016.9 707.5L1018.7 707.4L1020.5 707.4L1022.4 707.6L1024.7 708.2L1027.0 709.4L1028.8 708.9L1030.6 709.0L1032.5 709.4L1034.3 709.9L1036.1 709.9L1038.0 709.9L1039.8 709.4L1041.6 709.5L1043.5 709.4L1045.3 709.3L1047.0 708.9L1048.6 709.7L1050.2 708.9L1051.9 709.7L1053.5 709.7L1055.1 708.6L1056.8 709.1L1058.6 709.4L1060.4 709.6L1062.2 709.0L1064.0 708.7L1065.8 708.6L1067.6 709.4L1069.4 708.7L1071.3 708.3L1073.2 707.1L1075.1 706.8L1076.8 707.1L1078.4 706.0L1080.0 706.6L1081.6 706.1L1083.2 706.1L1084.8 706.2L1086.4 705.7L1088.0 706.5L1089.6 706.1L1091.2 705.9L1093.5 705.7L1095.8 706.4L1097.7 705.9L1099.6 705.4L1101.5 705.0L1103.3 705.2L1105.0 705.4L1106.7 706.1L1108.4 705.6L1110.3 706.6L1112.3 707.0L1114.2 706.8L1116.5 706.0L1118.8 704.2L1120.5 704.3L1122.2 703.4L1123.9 703.2L1125.6 703.1L1127.2 703.6L1128.9 703.1L1130.5 702.7L1132.1 702.7L1133.7 702.6L1135.6 702.0L1137.5 701.8L1139.4 702.2L1141.1 702.1L1142.9 703.1L1144.6 702.6L1146.3 703.0L1148.0 703.0L1149.7 702.6L1151.5 702.7L1153.2 702.9L1155.0 703.3L1156.9 703.4L1158.7 703.4L1160.5 703.9L1162.4 703.9L1164.0 703.7L1165.6 703.8L1167.3 703.1L1168.9 703.9L1170.6 703.6L1172.2 703.9L1173.8 703.7L1175.5 703.5L1177.1 703.4L1178.8 704.6L1180.4 703.9L1182.0 704.4L1183.7 704.4L1185.3 704.6L1187.2 704.3L1189.1 703.7L1191.1 702.3L1192.7 702.6L1194.3 702.1L1195.9 702.4L1197.5 702.2L1199.1 702.0L1200.7 701.9L1202.4 702.0L1204.0 702.9L1205.6 702.5L1207.3 702.3L1208.9 703.1L1210.6 703.0L1212.2 702.6L1213.8 702.3L1215.5 702.4L1217.1 702.2L1218.8 702.5L1220.4 702.2L1222.0 702.5L1223.6 702.5L1225.3 702.9L1226.9 703.3L1228.5 703.1L1230.1 702.9L1231.8 703.6L1233.5 704.5L1235.2 704.3L1237.0 704.1L1238.7 703.7L1240.4 703.9L1242.1 704.8L1243.8 704.0L1245.6 704.6L1247.3 704.8L1249.1 705.1L1251.0 704.3L1252.8 704.2L1254.6 704.1L1256.5 704.2L1258.1 704.1L1259.7 704.6L1261.4 704.4L1263.0 704.3L1264.7 703.3L1266.3 703.2L1267.9 703.7L1269.8 704.0L1271.6 703.4L1273.5 703.4L1275.3 702.7L1277.1 703.1L1279.4 702.5L1281.7 701.0L1283.6 701.1L1285.4 701.1L1287.2 700.2L1289.1 699.9L1290.9 700.0L1292.7 700.1L1294.6 700.1L1296.4 700.2L1298.2 699.9L1300.1 699.6L1301.9 699.7L1303.7 699.2L1305.6 699.3L1307.4 698.6L1309.3 699.2L1311.6 697.3L1313.8 696.5L1315.6 696.8L1317.3 696.9L1319.0 697.1L1320.7 697.7L1322.5 697.7L1324.2 697.5L1325.9 696.6L1327.6 696.5L1329.3 696.7L1331.1 696.8L1332.8 696.6L1334.5 696.6L1336.8 696.5L1339.1 695.8L1341.4 697.0L1343.7 698.3L1345.4 699.1L1347.1 699.1L1348.8 699.6L1350.6 699.5L1352.4 698.9L1354.2 698.6L1356.1 699.0L1357.9 698.4L1359.7 697.8L1362.0 696.2L1364.3 695.6L1366.1 695.6L1367.8 695.1L1369.5 694.8L1371.2 695.0L1373.5 693.6L1375.8 691.3L1378.1 689.9L1380.4 689.3L1382.3 689.4L1384.2 689.9L1386.1 689.7L1388.1 691.1L1390.0 691.9L1391.9 692.6L1393.6 692.0L1395.3 692.5L1397.0 691.5L1398.8 691.6L1400.5 691.4L1402.2 691.7L1403.9 692.6L1405.7 692.5L1407.4 693.7L1409.1 693.7L1410.8 694.0L1412.5 694.7L1414.8 694.3L1417.1 694.1L1419.0 695.1L1421.0 694.8L1422.9 695.7L1424.6 695.3L1426.3 696.0L1428.0 694.9L1429.8 694.9L1431.5 694.3L1433.2 694.3L1434.9 694.5L1436.6 693.9L1438.5 694.1L1440.5 694.4L1442.4 694.2L1444.1 693.7L1445.8 693.4L1447.5 694.1L1449.3 693.6L1451.0 693.3L1452.7 694.4L1454.4 694.4L1456.1 694.8L1457.9 695.2L1459.6 695.4L1461.3 695.7L1463.0 696.6L1464.7 697.2L1466.3 698.4L1468.0 698.4L1469.7 698.7L1471.4 697.5L1473.2 697.4L1474.9 697.4L1476.6 697.1L1478.3 696.3L1480.0 695.5L1481.8 695.6L1483.5 695.5L1485.2 696.3L1486.9 695.6L1488.7 696.0L1491.0 698.2L1493.2 699.2L1495.0 699.0L1496.7 699.0L1498.4 698.6L1500.1 697.6L1501.9 697.1L1503.6 696.8L1505.3 697.5L1507.0 696.6L1508.9 697.6L1510.7 698.4L1512.5 698.3L1514.4 698.9L1516.2 700.0L1518.0 699.3L1519.9 698.4L1521.7 698.4L1523.5 697.5L1525.4 697.1L1527.1 696.5L1528.8 697.2L1530.5 697.3L1532.3 696.8L1534.1 697.4L1535.9 696.7L1537.8 697.1L1539.6 697.6L1541.4 698.1L1543.2 697.9L1544.9 696.8L1546.6 696.2L1548.3 696.0L1550.2 695.9L1552.0 696.3L1553.8 695.4L1555.7 696.0L1557.5 695.7L1559.8 695.4L1562.1 694.6L1563.8 692.6L1565.5 690.4L1567.3 690.2L1569.0 690.0L1570.7 690.3L1572.4 689.6L1574.0 689.7L1575.6 690.6L1577.2 690.2L1578.9 690.3L1580.5 690.7L1582.2 691.0L1583.9 690.6L1585.6 691.3L1587.3 691.1L1589.1 691.1L1590.8 690.4L1592.7 691.0L1594.6 691.9L1596.5 693.3L1598.4 693.5L1600.2 693.2L1602.0 693.0L1603.9 693.2L1605.7 693.3L1607.5 693.2L1609.4 693.1L1611.2 693.0L1613.1 692.5L1614.9 691.9L1616.7 692.6L1618.6 692.2L1620.4 692.6L1622.2 692.5L1624.1 693.0L1625.9 692.8L1627.7 693.2L1629.6 693.5L1631.4 693.7L1633.3 694.6L1634.9 694.6L1636.5 694.4L1638.1 694.6L1639.7 695.3L1641.3 694.9L1643.2 695.4L1645.1 696.8L1647.0 697.3L1648.7 697.9L1650.5 697.1L1652.2 697.7L1653.9 698.0L1655.7 698.1L1657.6 698.1L1659.4 697.0L1661.3 697.1L1663.1 697.0L1664.8 697.2L1666.5 698.5L1668.3 698.4L1670.0 699.2L1671.7 699.0L1673.4 699.7L1675.1 698.8L1676.9 697.9L1678.6 697.8L1680.3 697.4L1682.0 695.8L1683.7 695.6L1685.5 695.6L1687.2 695.1L1688.9 695.2L1690.6 694.9L1692.4 694.9L1694.1 695.0L1695.9 695.0L1697.7 694.8L1699.5 694.1L1701.3 693.7L1703.1 693.8L1704.9 693.9L1706.7 693.3L1708.5 693.6L1710.4 693.7L1712.2 694.7L1714.0 694.7L1715.9 694.6L1718.2 694.0L1720.5 693.9L1722.2 694.4L1723.9 694.8L1725.6 694.6L1727.4 695.2L1729.0 695.4L1730.6 695.0L1732.3 694.7L1733.9 694.6L1735.5 695.2L1737.2 694.4L1738.8 694.5L1740.5 694.0L1742.3 693.9L1744.0 694.1L1745.7 693.8L1747.4 693.5L1749.0 693.4L1750.6 694.2L1752.3 693.7L1753.9 693.6L1755.6 694.7L1757.2 694.4L1759.0 694.7L1760.9 694.2L1762.7 694.7L1764.5 694.2L1766.4 694.0L1768.0 693.9L1769.6 694.6L1771.3 694.9L1772.9 695.4L1774.6 694.7L1776.2 695.5L1777.8 695.5L1779.5 695.5L1781.1 695.1L1782.8 695.1L1784.4 695.3L1786.0 695.7L1787.7 694.8L1789.3 695.1L1791.2 695.7L1793.0 696.1L1794.8 695.5L1796.7 695.6L1798.5 696.5L1800.1 696.4L1801.7 695.5L1803.3 694.7L1804.9 695.3L1806.5 694.4L1808.1 695.2L1809.7 695.3L1811.4 695.9L1813.0 695.5L1814.6 696.4L1816.3 696.2L1818.0 696.6L1819.7 697.3L1821.5 697.4L1823.1 696.9L1824.7 697.0L1826.3 697.2L1827.9 697.4L1829.5 697.3L1831.4 697.9L1833.3 699.0L1835.2 700.3L1835.0 700.2L1835 718.7L84.3 718.7Z" fill="#f5f7fc"/>
<path d="M84.3 702.4L84.0 702.3L85.8 701.5L87.5 699.9L89.8 700.5L92.1 700.8L94.4 699.2L96.7 698.6L99.0 698.9L101.2 700.1L103.2 700.1L105.1 700.5L107.0 701.3L108.9 700.3L110.8 698.1L112.7 697.0L115.0 695.6L117.3 694.0L119.6 694.5L121.9 695.1L123.8 695.2L125.7 693.7L127.6 693.9L129.6 694.7L131.5 695.6L133.4 697.0L135.7 697.3L138.0 698.0L140.3 698.3L142.6 699.5L144.3 698.7L146.0 697.5L147.7 696.8L149.4 695.6L151.4 696.2L153.3 697.3L155.2 698.7L157.1 698.5L159.0 698.4L160.9 698.6L162.8 699.0L164.7 699.4L166.7 700.3L168.4 699.5L170.1 698.2L171.8 698.6L173.5 698.7L175.3 699.3L177.0 699.1L178.9 699.0L180.8 700.0L182.7 699.5L185.0 701.2L187.3 703.1L188.9 702.4L190.5 702.7L192.1 702.1L193.7 702.7L195.3 702.6L197.3 702.7L199.2 703.2L201.1 702.8L203.4 703.5L205.7 703.7L207.4 702.3L209.1 700.8L210.8 701.3L212.6 701.6L214.3 701.2L216.0 701.4L217.7 701.0L219.4 701.9L221.2 702.0L222.9 702.3L224.6 703.2L226.3 703.4L228.1 704.3L229.8 705.3L231.5 704.4L233.2 704.6L234.9 704.0L236.7 703.9L238.5 703.8L240.3 704.7L242.2 704.2L244.0 704.5L245.8 704.9L247.6 705.2L249.3 704.2L251.0 704.4L252.7 704.3L254.4 704.7L256.2 704.6L257.9 704.7L259.6 704.2L261.4 703.7L263.3 703.1L265.1 703.2L267.0 702.8L268.8 701.6L271.1 701.8L273.4 702.3L275.1 701.8L276.8 701.6L278.5 701.4L280.3 700.7L282.1 700.0L283.9 700.2L285.8 699.9L287.6 699.8L289.4 699.7L291.2 700.0L292.9 700.2L294.6 700.6L296.3 701.0L298.2 700.9L300.2 702.4L302.1 702.6L303.8 702.5L305.5 701.9L307.2 702.8L309.0 704.0L310.7 705.7L312.4 708.3L314.7 706.6L317.0 705.7L319.3 706.2L321.6 706.9L323.3 706.3L325.0 705.4L326.7 704.8L328.5 704.6L330.3 704.4L332.1 704.8L334.0 704.5L335.8 705.5L337.6 705.3L339.4 704.3L341.1 703.9L342.8 703.5L344.5 703.1L346.4 702.0L348.4 702.0L350.3 701.1L352.6 701.3L354.9 701.8L357.2 700.6L359.5 700.2L361.7 701.0L364.0 701.9L366.0 701.7L367.9 700.3L369.8 699.7L371.5 700.7L373.2 700.4L374.9 700.2L376.7 700.9L378.5 700.4L380.3 701.1L382.2 701.7L384.0 701.6L385.8 701.4L387.5 701.1L389.1 701.3L390.8 701.1L392.4 701.9L394.0 701.7L395.7 702.0L397.3 701.7L399.0 701.4L400.8 702.0L402.5 702.1L404.2 701.9L405.9 701.7L407.7 701.5L409.4 700.2L411.1 698.4L412.8 698.3L414.5 697.8L416.3 697.2L418.0 697.2L419.8 697.2L421.7 697.1L423.5 697.6L425.3 697.9L427.2 697.4L429.0 698.1L430.8 698.3L432.7 698.5L434.5 698.0L436.3 698.2L438.1 699.5L439.8 701.1L441.4 700.8L443.0 701.0L444.6 701.1L446.2 700.8L447.8 700.2L449.5 700.5L451.3 700.8L453.0 700.2L454.7 700.9L456.5 701.2L458.4 700.9L460.2 700.7L462.0 700.3L463.9 700.0L465.6 700.2L467.3 699.4L469.0 699.6L470.8 699.3L472.7 698.0L474.6 697.1L476.5 696.5L478.1 696.4L479.7 695.6L481.3 695.4L482.9 695.3L484.5 695.8L486.8 695.1L489.1 693.8L490.7 693.6L492.3 693.1L493.9 692.1L495.6 691.0L497.2 690.6L498.9 690.9L500.6 691.9L502.3 691.7L504.0 690.4L505.8 690.9L507.5 691.9L509.2 691.9L510.9 692.8L512.8 691.6L514.8 689.7L516.7 688.6L518.6 687.9L520.5 687.3L522.4 687.1L524.3 685.4L526.2 684.2L528.1 682.7L529.9 681.3L531.6 678.7L533.3 680.8L535.0 683.0L537.3 684.5L539.6 685.2L541.9 688.9L543.8 689.5L545.7 690.3L547.7 689.0L549.6 687.2L551.5 686.4L553.2 682.9L554.9 679.9L557.2 680.2L559.5 679.3L561.8 678.6L564.1 677.8L566.4 681.9L568.7 685.8L570.6 685.3L572.5 684.8L574.4 684.3L576.7 681.9L579.0 680.7L581.3 681.0L583.6 681.7L585.9 683.6L588.2 684.8L590.5 683.7L592.8 682.6L595.1 683.7L597.4 684.1L599.1 683.6L600.7 682.9L602.4 682.3L604.5 684.5L606.6 686.4L608.9 688.4L611.1 690.3L613.1 689.9L615.0 688.7L616.9 687.7L618.6 688.2L620.4 687.6L622.2 688.0L624.2 691.8L626.3 695.0L628.4 697.7L630.3 697.7L632.2 698.3L634.1 698.3L636.4 698.7L638.7 699.2L641.0 700.0L643.3 700.3L645.6 698.9L647.9 696.5L650.2 698.3L652.5 699.6L654.8 699.4L657.1 700.4L659.0 700.5L660.9 699.4L662.8 699.7L664.7 699.7L666.6 700.2L668.5 700.9L670.4 701.4L672.4 701.0L674.3 701.7L676.0 700.4L677.7 698.8L679.4 697.3L681.2 696.2L682.9 697.0L684.6 696.9L686.9 695.6L689.2 693.9L691.5 693.7L693.8 694.3L695.7 694.0L697.6 693.4L699.5 692.6L701.4 693.7L703.3 693.7L705.3 694.0L707.5 692.7L709.8 692.5L711.6 693.3L713.3 695.3L715.6 694.5L717.9 694.2L719.6 695.3L721.3 696.5L723.6 697.1L725.9 697.0L727.8 695.1L729.7 694.3L731.6 692.2L733.6 691.7L735.5 690.5L737.4 690.1L739.7 689.4L742.0 688.0L744.3 688.4L746.6 690.1L748.5 690.0L750.4 690.2L752.3 689.6L754.6 689.8L756.9 688.7L759.2 690.4L761.5 691.0L763.8 691.7L766.1 692.8L768.0 693.7L769.9 693.3L771.8 693.8L773.7 694.8L775.6 695.2L777.5 696.0L779.3 696.3L781.0 696.6L782.7 697.1L784.4 697.8L786.3 697.1L788.3 697.1L790.2 696.1L792.1 697.0L794.0 697.4L795.9 698.5L797.8 698.6L799.7 699.4L801.6 699.9L803.6 700.4L805.5 700.2L807.4 700.0L809.7 701.3L812.0 702.7L813.7 701.7L815.4 702.2L817.1 701.5L818.9 701.3L820.8 700.9L822.7 699.7L824.6 699.0L826.5 699.8L828.4 700.6L830.3 700.5L832.6 701.7L834.9 702.1L837.2 701.0L839.5 699.7L841.4 700.1L843.3 700.3L845.3 701.1L847.0 700.6L848.7 701.0L850.4 700.2L852.1 700.0L853.7 699.2L855.4 699.6L857.0 699.2L858.6 698.5L860.2 697.8L862.1 698.1L864.0 698.7L865.9 699.5L867.8 699.7L869.7 700.6L871.7 701.2L873.4 701.8L875.1 701.8L876.8 701.4L878.5 701.2L880.1 701.9L881.7 701.3L883.4 701.4L885.0 701.1L886.6 701.7L888.5 702.9L890.4 704.1L892.3 705.1L893.9 705.1L895.5 704.5L897.1 704.7L898.7 704.4L900.3 704.7L902.1 704.1L903.8 704.0L905.5 704.2L907.2 704.1L909.1 704.5L911.1 704.6L913.0 704.9L915.3 706.7L917.6 708.3L919.2 708.7L920.8 708.3L922.4 708.3L924.0 709.1L925.6 708.5L927.9 709.1L930.2 709.2L931.9 708.4L933.6 709.0L935.3 708.9L937.1 708.3L938.8 708.3L940.5 708.2L942.2 707.3L943.9 707.5L945.8 707.4L947.6 707.7L949.5 707.6L951.3 707.5L953.1 707.1L954.7 707.4L956.3 707.1L957.9 707.0L959.6 706.4L961.2 706.3L962.8 706.5L964.4 707.1L966.0 707.1L967.6 708.2L969.2 708.2L970.9 708.5L972.6 708.6L974.4 708.7L976.1 708.7L978.0 708.0L979.9 708.7L981.8 708.3L983.4 708.4L985.0 708.6L986.6 708.9L988.2 708.5L989.9 709.2L991.7 708.8L993.5 708.5L995.4 708.6L997.2 709.0L999.0 708.5L1000.7 708.9L1002.3 709.2L1004.0 708.7L1005.8 708.4L1007.7 708.5L1009.5 708.6L1011.3 708.6L1013.2 708.3L1015.0 708.2L1016.9 707.5L1018.7 707.4L1020.5 707.4L1022.4 707.6L1024.7 708.2L1027.0 709.4L1028.8 708.9L1030.6 709.0L1032.5 709.4L1034.3 709.9L1036.1 709.9L1038.0 709.9L1039.8 709.4L1041.6 709.5L1043.5 709.4L1045.3 709.3L1047.0 708.9L1048.6 709.7L1050.2 708.9L1051.9 709.7L1053.5 709.7L1055.1 708.6L1056.8 709.1L1058.6 709.4L1060.4 709.6L1062.2 709.0L1064.0 708.7L1065.8 708.6L1067.6 709.4L1069.4 708.7L1071.3 708.3L1073.2 707.1L1075.1 706.8L1076.8 707.1L1078.4 706.0L1080.0 706.6L1081.6 706.1L1083.2 706.1L1084.8 706.2L1086.4 705.7L1088.0 706.5L1089.6 706.1L1091.2 705.9L1093.5 705.7L1095.8 706.4L1097.7 705.9L1099.6 705.4L1101.5 705.0L1103.3 705.2L1105.0 705.4L1106.7 706.1L1108.4 705.6L1110.3 706.6L1112.3 707.0L1114.2 706.8L1116.5 706.0L1118.8 704.2L1120.5 704.3L1122.2 703.4L1123.9 703.2L1125.6 703.1L1127.2 703.6L1128.9 703.1L1130.5 702.7L1132.1 702.7L1133.7 702.6L1135.6 702.0L1137.5 701.8L1139.4 702.2L1141.1 702.1L1142.9 703.1L1144.6 702.6L1146.3 703.0L1148.0 703.0L1149.7 702.6L1151.5 702.7L1153.2 702.9L1155.0 703.3L1156.9 703.4L1158.7 703.4L1160.5 703.9L1162.4 703.9L1164.0 703.7L1165.6 703.8L1167.3 703.1L1168.9 703.9L1170.6 703.6L1172.2 703.9L1173.8 703.7L1175.5 703.5L1177.1 703.4L1178.8 704.6L1180.4 703.9L1182.0 704.4L1183.7 704.4L1185.3 704.6L1187.2 704.3L1189.1 703.7L1191.1 702.3L1192.7 702.6L1194.3 702.1L1195.9 702.4L1197.5 702.2L1199.1 702.0L1200.7 701.9L1202.4 702.0L1204.0 702.9L1205.6 702.5L1207.3 702.3L1208.9 703.1L1210.6 703.0L1212.2 702.6L1213.8 702.3L1215.5 702.4L1217.1 702.2L1218.8 702.5L1220.4 702.2L1222.0 702.5L1223.6 702.5L1225.3 702.9L1226.9 703.3L1228.5 703.1L1230.1 702.9L1231.8 703.6L1233.5 704.5L1235.2 704.3L1237.0 704.1L1238.7 703.7L1240.4 703.9L1242.1 704.8L1243.8 704.0L1245.6 704.6L1247.3 704.8L1249.1 705.1L1251.0 704.3L1252.8 704.2L1254.6 704.1L1256.5 704.2L1258.1 704.1L1259.7 704.6L1261.4 704.4L1263.0 704.3L1264.7 703.3L1266.3 703.2L1267.9 703.7L1269.8 704.0L1271.6 703.4L1273.5 703.4L1275.3 702.7L1277.1 703.1L1279.4 702.5L1281.7 701.0L1283.6 701.1L1285.4 701.1L1287.2 700.2L1289.1 699.9L1290.9 700.0L1292.7 700.1L1294.6 700.1L1296.4 700.2L1298.2 699.9L1300.1 699.6L1301.9 699.7L1303.7 699.2L1305.6 699.3L1307.4 698.6L1309.3 699.2L1311.6 697.3L1313.8 696.5L1315.6 696.8L1317.3 696.9L1319.0 697.1L1320.7 697.7L1322.5 697.7L1324.2 697.5L1325.9 696.6L1327.6 696.5L1329.3 696.7L1331.1 696.8L1332.8 696.6L1334.5 696.6L1336.8 696.5L1339.1 695.8L1341.4 697.0L1343.7 698.3L1345.4 699.1L1347.1 699.1L1348.8 699.6L1350.6 699.5L1352.4 698.9L1354.2 698.6L1356.1 699.0L1357.9 698.4L1359.7 697.8L1362.0 696.2L1364.3 695.6L1366.1 695.6L1367.8 695.1L1369.5 694.8L1371.2 695.0L1373.5 693.6L1375.8 691.3L1378.1 689.9L1380.4 689.3L1382.3 689.4L1384.2 689.9L1386.1 689.7L1388.1 691.1L1390.0 691.9L1391.9 692.6L1393.6 692.0L1395.3 692.5L1397.0 691.5L1398.8 691.6L1400.5 691.4L1402.2 691.7L1403.9 692.6L1405.7 692.5L1407.4 693.7L1409.1 693.7L1410.8 694.0L1412.5 694.7L1414.8 694.3L1417.1 694.1L1419.0 695.1L1421.0 694.8L1422.9 695.7L1424.6 695.3L1426.3 696.0L1428.0 694.9L1429.8 694.9L1431.5 694.3L1433.2 694.3L1434.9 694.5L1436.6 693.9L1438.5 694.1L1440.5 694.4L1442.4 694.2L1444.1 693.7L1445.8 693.4L1447.5 694.1L1449.3 693.6L1451.0 693.3L1452.7 694.4L1454.4 694.4L1456.1 694.8L1457.9 695.2L1459.6 695.4L1461.3 695.7L1463.0 696.6L1464.7 697.2L1466.3 698.4L1468.0 698.4L1469.7 698.7L1471.4 697.5L1473.2 697.4L1474.9 697.4L1476.6 697.1L1478.3 696.3L1480.0 695.5L1481.8 695.6L1483.5 695.5L1485.2 696.3L1486.9 695.6L1488.7 696.0L1491.0 698.2L1493.2 699.2L1495.0 699.0L1496.7 699.0L1498.4 698.6L1500.1 697.6L1501.9 697.1L1503.6 696.8L1505.3 697.5L1507.0 696.6L1508.9 697.6L1510.7 698.4L1512.5 698.3L1514.4 698.9L1516.2 700.0L1518.0 699.3L1519.9 698.4L1521.7 698.4L1523.5 697.5L1525.4 697.1L1527.1 696.5L1528.8 697.2L1530.5 697.3L1532.3 696.8L1534.1 697.4L1535.9 696.7L1537.8 697.1L1539.6 697.6L1541.4 698.1L1543.2 697.9L1544.9 696.8L1546.6 696.2L1548.3 696.0L1550.2 695.9L1552.0 696.3L1553.8 695.4L1555.7 696.0L1557.5 695.7L1559.8 695.4L1562.1 694.6L1563.8 692.6L1565.5 690.4L1567.3 690.2L1569.0 690.0L1570.7 690.3L1572.4 689.6L1574.0 689.7L1575.6 690.6L1577.2 690.2L1578.9 690.3L1580.5 690.7L1582.2 691.0L1583.9 690.6L1585.6 691.3L1587.3 691.1L1589.1 691.1L1590.8 690.4L1592.7 691.0L1594.6 691.9L1596.5 693.3L1598.4 693.5L1600.2 693.2L1602.0 693.0L1603.9 693.2L1605.7 693.3L1607.5 693.2L1609.4 693.1L1611.2 693.0L1613.1 692.5L1614.9 691.9L1616.7 692.6L1618.6 692.2L1620.4 692.6L1622.2 692.5L1624.1 693.0L1625.9 692.8L1627.7 693.2L1629.6 693.5L1631.4 693.7L1633.3 694.6L1634.9 694.6L1636.5 694.4L1638.1 694.6L1639.7 695.3L1641.3 694.9L1643.2 695.4L1645.1 696.8L1647.0 697.3L1648.7 697.9L1650.5 697.1L1652.2 697.7L1653.9 698.0L1655.7 698.1L1657.6 698.1L1659.4 697.0L1661.3 697.1L1663.1 697.0L1664.8 697.2L1666.5 698.5L1668.3 698.4L1670.0 699.2L1671.7 699.0L1673.4 699.7L1675.1 698.8L1676.9 697.9L1678.6 697.8L1680.3 697.4L1682.0 695.8L1683.7 695.6L1685.5 695.6L1687.2 695.1L1688.9 695.2L1690.6 694.9L1692.4 694.9L1694.1 695.0L1695.9 695.0L1697.7 694.8L1699.5 694.1L1701.3 693.7L1703.1 693.8L1704.9 693.9L1706.7 693.3L1708.5 693.6L1710.4 693.7L1712.2 694.7L1714.0 694.7L1715.9 694.6L1718.2 694.0L1720.5 693.9L1722.2 694.4L1723.9 694.8L1725.6 694.6L1727.4 695.2L1729.0 695.4L1730.6 695.0L1732.3 694.7L1733.9 694.6L1735.5 695.2L1737.2 694.4L1738.8 694.5L1740.5 694.0L1742.3 693.9L1744.0 694.1L1745.7 693.8L1747.4 693.5L1749.0 693.4L1750.6 694.2L1752.3 693.7L1753.9 693.6L1755.6 694.7L1757.2 694.4L1759.0 694.7L1760.9 694.2L1762.7 694.7L1764.5 694.2L1766.4 694.0L1768.0 693.9L1769.6 694.6L1771.3 694.9L1772.9 695.4L1774.6 694.7L1776.2 695.5L1777.8 695.5L1779.5 695.5L1781.1 695.1L1782.8 695.1L1784.4 695.3L1786.0 695.7L1787.7 694.8L1789.3 695.1L1791.2 695.7L1793.0 696.1L1794.8 695.5L1796.7 695.6L1798.5 696.5L1800.1 696.4L1801.7 695.5L1803.3 694.7L1804.9 695.3L1806.5 694.4L1808.1 695.2L1809.7 695.3L1811.4 695.9L1813.0 695.5L1814.6 696.4L1816.3 696.2L1818.0 696.6L1819.7 697.3L1821.5 697.4L1823.1 696.9L1824.7 697.0L1826.3 697.2L1827.9 697.4L1829.5 697.3L1831.4 697.9L1833.3 699.0L1835.2 700.3L1835.0 700.2" fill="none" stroke="#d3dcee" stroke-width="1.3" stroke-linejoin="round"/>
<rect x="1835" y="666.9" width="106.3" height="52.7" fill="#e8effd"/>
<path d="M1835.0 702.5L1836.6 702.5L1838.2 702.3L1839.8 702.4L1841.4 702.3L1843.2 701.8L1845.0 701.7L1846.8 702.2L1848.6 701.7L1850.3 701.6L1852.1 702.1L1853.9 701.7L1855.7 701.7L1857.7 701.8L1859.7 702.1L1861.7 702.1L1863.4 702.2L1865.1 702.2L1866.8 701.8L1868.6 701.9L1870.3 701.7L1872.0 701.1L1873.7 701.4L1875.4 701.3L1877.0 700.9L1878.7 700.6L1880.3 701.1L1882.0 700.7L1883.9 701.2L1885.8 701.6L1887.8 701.8L1889.7 702.2L1891.6 702.2L1893.6 703.2L1895.6 703.8L1897.6 704.8L1899.6 705.1L1901.6 704.7L1903.6 705.1L1905.4 705.1L1907.2 705.8L1909.0 705.4L1910.8 705.7L1912.8 705.1L1914.7 704.9L1916.7 704.6L1918.5 704.8L1920.3 705.2L1922.1 704.9L1923.9 704.7L1925.7 704.1L1927.8 704.8L1929.9 705.1L1932.3 705.5L1934.7 705.3L1936.3 705.0L1938.0 705.6L1939.7 705.7L1941.3 705.4L1941.3 718.7L1835 718.7Z" fill="#d5e1fb"/>
<path d="M1835.0 702.5L1836.6 702.5L1838.2 702.3L1839.8 702.4L1841.4 702.3L1843.2 701.8L1845.0 701.7L1846.8 702.2L1848.6 701.7L1850.3 701.6L1852.1 702.1L1853.9 701.7L1855.7 701.7L1857.7 701.8L1859.7 702.1L1861.7 702.1L1863.4 702.2L1865.1 702.2L1866.8 701.8L1868.6 701.9L1870.3 701.7L1872.0 701.1L1873.7 701.4L1875.4 701.3L1877.0 700.9L1878.7 700.6L1880.3 701.1L1882.0 700.7L1883.9 701.2L1885.8 701.6L1887.8 701.8L1889.7 702.2L1891.6 702.2L1893.6 703.2L1895.6 703.8L1897.6 704.8L1899.6 705.1L1901.6 704.7L1903.6 705.1L1905.4 705.1L1907.2 705.8L1909.0 705.4L1910.8 705.7L1912.8 705.1L1914.7 704.9L1916.7 704.6L1918.5 704.8L1920.3 705.2L1922.1 704.9L1923.9 704.7L1925.7 704.1L1927.8 704.8L1929.9 705.1L1932.3 705.5L1934.7 705.3L1936.3 705.0L1938.0 705.6L1939.7 705.7L1941.3 705.4" fill="none" stroke="#8fb0f7" stroke-width="1.3" stroke-linejoin="round"/>
<rect x="83.4" y="666.9" width="1857.9" height="52.7" rx="5.5" fill="none" stroke="#d2dbee" stroke-width="1.8"/>
<line x1="1835" y1="666.9" x2="1941.3" y2="666.9" stroke="#bcc8e2" stroke-width="1.8"/>
<path d="M1833.2 666.7V659.6a5.5 5.5 0 0 1 5.5 -5.5H1937.3a5.5 5.5 0 0 1 5.5 5.5V666.7Z" fill="#dfe5f3"/>
<rect x="1883.3" y="658" width="1.9" height="5.6" fill="#fff"/>
<rect x="1887.2" y="658" width="1.9" height="5.6" fill="#fff"/>
<rect x="1891.1" y="658" width="1.9" height="5.6" fill="#fff"/>
<line x1="1835.0" y1="666.9" x2="1835.0" y2="719.6" stroke="#a7b3cc" stroke-width="2"/>
<rect x="1830.1" y="676.6" width="9.8" height="33.3" rx="2.6" fill="#fff" stroke="#acb8d1" stroke-width="1.8"/>
<line x1="1941.3" y1="666.9" x2="1941.3" y2="719.6" stroke="#a7b3cc" stroke-width="2"/>
<rect x="1936.4" y="676.6" width="9.8" height="33.3" rx="2.6" fill="#fff" stroke="#acb8d1" stroke-width="1.8"/>
</g>
</svg>
</body></html>
